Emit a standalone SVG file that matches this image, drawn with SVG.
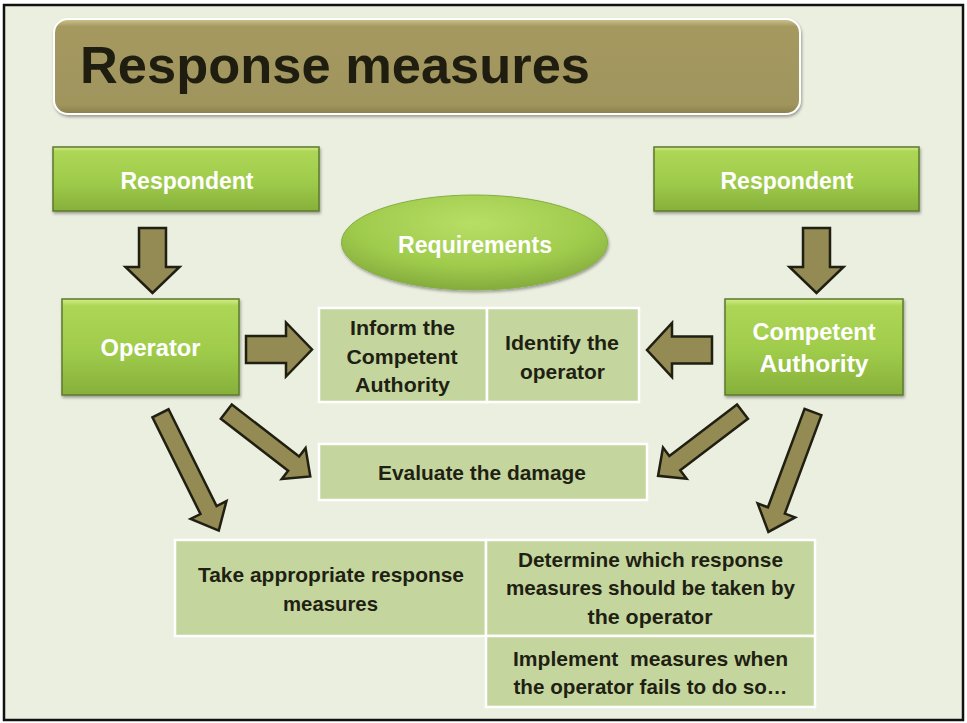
<svg xmlns="http://www.w3.org/2000/svg" width="967" height="723" viewBox="0 0 967 723">
<style>
  text { font-family: "Liberation Sans", Arial, sans-serif; font-weight: bold; text-anchor: middle; }
  .wt { fill: #ffffff; font-size: 23px; }
  .dk { fill: #1f1f14; font-size: 20.5px; }
  .cell { fill: #c4d69d; stroke: #ffffff; stroke-width: 2.5; }
  .gbox { fill: url(#gGreen); stroke: #5c7a2c; stroke-width: 1.5; filter: url(#shadow); }
  .arr { fill: #948a54; stroke: #1f1f12; stroke-width: 2.5; stroke-linejoin: miter; }
</style>
<defs>
  <linearGradient id="gGreen" x1="0" y1="0" x2="0" y2="1">
    <stop offset="0" stop-color="#d2ee8a"/>
    <stop offset="0.07" stop-color="#aed656"/>
    <stop offset="0.55" stop-color="#9fcb4b"/>
    <stop offset="1" stop-color="#86b03a"/>
  </linearGradient>
  <linearGradient id="gTitle" x1="0" y1="0" x2="0" y2="1">
    <stop offset="0" stop-color="#cfc58e"/>
    <stop offset="0.08" stop-color="#a59960"/>
    <stop offset="0.9" stop-color="#a0955d"/>
    <stop offset="1" stop-color="#8a7f4a"/>
  </linearGradient>
  <radialGradient id="gEll" cx="0.5" cy="0.3" r="0.75">
    <stop offset="0" stop-color="#b8de66"/>
    <stop offset="0.6" stop-color="#9fcb4c"/>
    <stop offset="1" stop-color="#7ea53a"/>
  </radialGradient>
  <filter id="shadow" x="-10%" y="-10%" width="120%" height="130%">
    <feDropShadow dx="1" dy="2" stdDeviation="1.5" flood-color="#000000" flood-opacity="0.35"/>
  </filter>
</defs>

<rect x="0" y="0" width="967" height="723" fill="#ffffff"/>
<rect x="4" y="5" width="959" height="715" fill="#ebefe0" stroke="#111111" stroke-width="2.5"/>

<g id="title">
  <rect x="54" y="19" width="746" height="95" rx="14" fill="url(#gTitle)" stroke="#ffffff" stroke-width="2" filter="url(#shadow)"/>
  <text x="80" y="83" style="text-anchor:start; font-size:52px; fill:#1e1d10" textLength="510" lengthAdjust="spacingAndGlyphs">Response measures</text>
</g>

<g id="connectors">
  <polygon class="arr" transform="translate(152.5,228) rotate(90)" points="0,-13.5 39,-13.5 39,-27 65,0 39,27 39,13.5 0,13.5"/>
  <polygon class="arr" transform="translate(816.5,228) rotate(90)" points="0,-13.5 39,-13.5 39,-27 65,0 39,27 39,13.5 0,13.5"/>
  <polygon class="arr" transform="translate(246,349.5)" points="0,-13.5 40,-13.5 40,-27 66,0 40,27 40,13.5 0,13.5"/>
  <polygon class="arr" transform="translate(712,350) rotate(180)" points="0,-13.5 40,-13.5 40,-27 65,0 40,27 40,13.5 0,13.5"/>
  <polygon class="arr" transform="translate(160.5,413.3) rotate(63.6)" points="0,-9 108,-9 108,-20 131,0 108,20 108,9 0,9"/>
  <polygon class="arr" transform="translate(226.3,411.7) rotate(37.6)" points="0,-9 85,-9 85,-19.5 106,0 85,19.5 85,9 0,9"/>
  <polygon class="arr" transform="translate(742.5,411.7) rotate(142.8)" points="0,-9 85,-9 85,-19.5 106,0 85,19.5 85,9 0,9"/>
  <polygon class="arr" transform="translate(813,412) rotate(110.4)" points="0,-9 105,-9 105,-20 128,0 105,20 105,9 0,9"/>
</g>

<g id="respondent-left">
  <rect class="gbox" x="53" y="147" width="266" height="64"/>
  <text class="wt" x="187" y="189" textLength="133" lengthAdjust="spacingAndGlyphs">Respondent</text>
</g>

<g id="respondent-right">
  <rect class="gbox" x="654" y="147" width="265" height="64"/>
  <text class="wt" x="787" y="189" textLength="133" lengthAdjust="spacingAndGlyphs">Respondent</text>
</g>

<g id="requirements">
  <ellipse cx="474.5" cy="242.5" rx="133" ry="47.5" fill="url(#gEll)" stroke="#86ad42" stroke-width="1" filter="url(#shadow)"/>
  <text class="wt" x="475" y="253" textLength="154" lengthAdjust="spacingAndGlyphs">Requirements</text>
</g>

<g id="operator">
  <rect class="gbox" x="62" y="299" width="177" height="96"/>
  <text class="wt" x="150.5" y="356" textLength="100" lengthAdjust="spacingAndGlyphs">Operator</text>
</g>

<g id="competent-authority">
  <rect class="gbox" x="725" y="299" width="178" height="96"/>
  <text class="wt" x="814" y="340" textLength="123" lengthAdjust="spacingAndGlyphs">Competent</text>
  <text class="wt" x="814" y="372" textLength="109" lengthAdjust="spacingAndGlyphs">Authority</text>
</g>

<g id="inform">
  <rect class="cell" x="319" y="308" width="168" height="94"/>
  <text class="dk" x="402.5" y="335" textLength="105" lengthAdjust="spacingAndGlyphs">Inform the</text>
  <text class="dk" x="402" y="363.5" textLength="111" lengthAdjust="spacingAndGlyphs">Competent</text>
  <text class="dk" x="402.5" y="392" textLength="95" lengthAdjust="spacingAndGlyphs">Authority</text>
</g>

<g id="identify">
  <rect class="cell" x="487" y="308" width="152" height="94"/>
  <text class="dk" x="562" y="350" textLength="114" lengthAdjust="spacingAndGlyphs">Identify the</text>
  <text class="dk" x="562.5" y="378.5" textLength="85" lengthAdjust="spacingAndGlyphs">operator</text>
</g>

<g id="evaluate">
  <rect class="cell" x="319" y="444" width="328" height="56"/>
  <text class="dk" x="482" y="480" textLength="208" lengthAdjust="spacingAndGlyphs">Evaluate the damage</text>
</g>

<g id="take-measures">
  <rect class="cell" x="175" y="540" width="311" height="96"/>
  <text class="dk" x="331" y="582" textLength="266" lengthAdjust="spacingAndGlyphs">Take appropriate response</text>
  <text class="dk" x="330.5" y="610.5" textLength="95" lengthAdjust="spacingAndGlyphs">measures</text>
</g>

<g id="determine">
  <rect class="cell" x="486" y="540" width="329" height="96"/>
  <text class="dk" x="650.5" y="566.5" textLength="265" lengthAdjust="spacingAndGlyphs">Determine which response</text>
  <text class="dk" x="650.5" y="595" textLength="289" lengthAdjust="spacingAndGlyphs">measures should be taken by</text>
  <text class="dk" x="650" y="623.5" textLength="125" lengthAdjust="spacingAndGlyphs">the operator</text>
</g>

<g id="implement">
  <rect class="cell" x="486" y="636" width="329" height="71"/>
  <text class="dk" x="650.5" y="666" textLength="275" lengthAdjust="spacingAndGlyphs" xml:space="preserve">Implement  measures when</text>
  <text class="dk" x="650.5" y="694" textLength="274" lengthAdjust="spacingAndGlyphs">the operator fails to do so…</text>
</g>
</svg>
